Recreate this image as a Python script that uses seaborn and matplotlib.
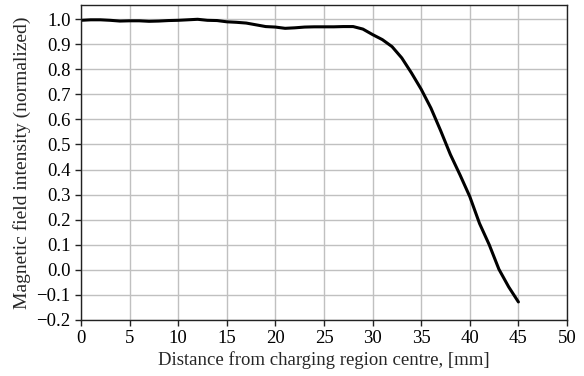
import matplotlib
matplotlib.use("Agg")
import matplotlib.pyplot as plt
import seaborn as sns
import pandas as pd
import numpy as np

distance_mm = [0, 1, 2, 3, 4, 5, 6, 7, 8, 9, 10, 11, 12, 13, 14, 15, 16, 17, 18, 19, 20,
               21, 22, 23, 24, 25, 26, 27, 28, 29, 30, 31, 32, 33, 34, 35, 36, 37, 38,
               39, 40, 41, 42, 43, 44, 45]
intensity = [0.995, 0.997, 0.997, 0.995, 0.992, 0.993, 0.993, 0.991, 0.992, 0.994, 0.995,
             0.997, 0.999, 0.995, 0.994, 0.989, 0.987, 0.984, 0.977, 0.970, 0.968,
             0.963, 0.965, 0.968, 0.969, 0.969, 0.969, 0.970, 0.970, 0.960, 0.938,
             0.918, 0.890, 0.845, 0.785, 0.720, 0.645, 0.555, 0.460, 0.378, 0.292,
             0.185, 0.100, 0.002, -0.068, -0.128]
x_ticks = [0, 5, 10, 15, 20, 25, 30, 35, 40, 45, 50]
y_ticks = [-0.2, -0.1, 0.0, 0.1, 0.2, 0.3, 0.4, 0.5, 0.6, 0.7, 0.8, 0.9, 1.0]

sns.set_style("ticks")
plt.rcParams['font.family'] = ['Liberation Serif', 'DejaVu Serif']

df = pd.DataFrame({"x": distance_mm, "y": intensity})

fig = plt.figure(figsize=(5.84, 3.76), dpi=100)
ax = fig.add_axes([81/584, 1 - 320/376, (567-81)/584, (320-5)/376])
sns.lineplot(data=df, x="x", y="y", ax=ax, color="black", linewidth=2.2)
ax.set_xlim(0, 50)
ax.set_ylim(-0.2, 1.056)
ax.set_xticks(x_ticks)
ax.set_yticks(y_ticks)
ax.set_yticklabels([f"{v:.1f}".replace("-", "\u2212") for v in y_ticks])
ax.grid(True, color="#c0c0c0", linewidth=1.0)
ax.set_axisbelow(True)
for s in ax.spines.values():
    s.set_color("#222222")
    s.set_linewidth(1.0)
ax.tick_params(labelsize=13.5, length=4.5, width=1, colors="#222222", labelcolor="black", pad=3)
ax.set_xlabel("Distance from charging region centre, [mm]", fontsize=13.5, labelpad=3)
ax.set_ylabel("Magnetic field intensity (normalized)", fontsize=14, labelpad=4)
fig.savefig("out.png", dpi=100)
